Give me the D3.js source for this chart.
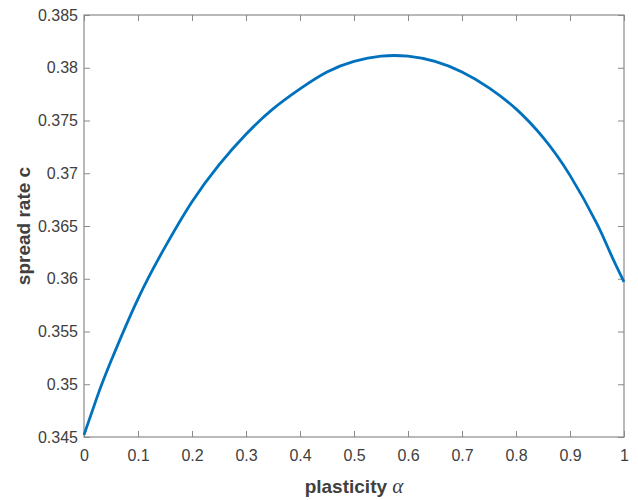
<!DOCTYPE html>
<html>
<head>
<meta charset="utf-8">
<script src="https://cdn.jsdelivr.net/npm/d3@7"></script>
<style>
  body { margin: 0; background: #fff; }
  text { font-family: "Liberation Sans", Arial, Helvetica, sans-serif; }
</style>
</head>
<body>
<div id="chart"></div>
<script>
var canvasWidth = 638;
var canvasHeight = 500;

/*values*/
var alphaValues = [0, 0.025, 0.05, 0.1, 0.15, 0.2, 0.25, 0.3, 0.35, 0.4, 0.45, 0.5,
                   0.55, 0.6, 0.65, 0.7, 0.75, 0.8, 0.85, 0.9, 0.95, 0.975, 1];
var spreadRate = [0.3452, 0.3489, 0.3522, 0.3581, 0.3630, 0.3673, 0.3708, 0.3737, 0.3761, 0.3780, 0.3796, 0.3806,
                  0.3811, 0.3811, 0.3806, 0.3796, 0.3781, 0.3761, 0.3734, 0.3698, 0.3652, 0.3624, 0.3597];
var xTicks = [0, 0.1, 0.2, 0.3, 0.4, 0.5, 0.6, 0.7, 0.8, 0.9, 1];
var yTicks = [0.345, 0.35, 0.355, 0.36, 0.365, 0.37, 0.375, 0.38, 0.385];

var margin = {left: 84, right: 14, top: 15, bottom: 63};
var width = canvasWidth - margin.left - margin.right;
var height = canvasHeight - margin.top - margin.bottom;

var svg = d3.select("#chart").append("svg")
    .attr("width", canvasWidth)
    .attr("height", canvasHeight);

var g = svg.append("g")
    .attr("transform", "translate(" + margin.left + "," + margin.top + ")");

var xScale = d3.scaleLinear().domain([0, 1]).range([0, width]);
var yScale = d3.scaleLinear().domain([0.345, 0.385]).range([height, 0]);

var axisColor = "#8a8a8a";
var labelColor = "#404040";

function styleAxis(sel, showText) {
    sel.select(".domain").remove();
    sel.selectAll(".tick line").attr("stroke", axisColor).attr("stroke-width", 1);
    sel.selectAll(".tick text")
        .attr("fill", labelColor)
        .style("font-size", "16px")
        .style("display", showText ? null : "none");
}

/*bottom axis, ticks pointing inward*/
g.append("g")
    .attr("transform", "translate(0," + height + ")")
    .call(d3.axisBottom(xScale).tickValues(xTicks).tickSize(-6).tickPadding(13)
        .tickFormat(d3.format("~g")))
    .call(styleAxis, true);

/*top axis*/
g.append("g")
    .call(d3.axisTop(xScale).tickValues(xTicks).tickSize(-6))
    .call(styleAxis, false);

/*left axis*/
g.append("g")
    .call(d3.axisLeft(yScale).tickValues(yTicks).tickSize(-6).tickPadding(6)
        .tickFormat(d3.format("~g")))
    .call(styleAxis, true);

/*right axis*/
g.append("g")
    .attr("transform", "translate(" + width + ",0)")
    .call(d3.axisRight(yScale).tickValues(yTicks).tickSize(-6))
    .call(styleAxis, false);

/*box*/
g.append("rect")
    .attr("x", 0).attr("y", 0)
    .attr("width", width).attr("height", height)
    .attr("fill", "none")
    .attr("stroke", axisColor)
    .attr("stroke-width", 1.2);

var data = alphaValues.map(function (a, i) { return {a: a, c: spreadRate[i]}; });

g.append("path")
    .datum(data)
    .attr("fill", "none")
    .attr("stroke", "#0072BD")
    .attr("stroke-width", 2.8)
    .attr("d", d3.line()
        .curve(d3.curveNatural)
        .x(function (d) { return xScale(d.a); })
        .y(function (d) { return yScale(d.c); }));

/*x label*/
var xl = svg.append("text")
    .attr("x", margin.left + width / 2)
    .attr("y", 493)
    .attr("text-anchor", "middle")
    .attr("fill", labelColor)
    .style("font-size", "19px")
    .style("font-weight", "bold");
xl.append("tspan").text("plasticity ");
xl.append("tspan")
    .style("font-family", "'Liberation Serif', 'DejaVu Serif', serif")
    .style("font-style", "italic")
    .style("font-weight", "normal")
    .style("font-size", "21px")
    .text("α");

/*y label*/
svg.append("text")
    .attr("transform", "translate(30," + (margin.top + height / 2) + ") rotate(-90)")
    .attr("text-anchor", "middle")
    .attr("fill", labelColor)
    .style("font-size", "19px")
    .style("font-weight", "bold")
    .text("spread rate c");
</script>
</body>
</html>
